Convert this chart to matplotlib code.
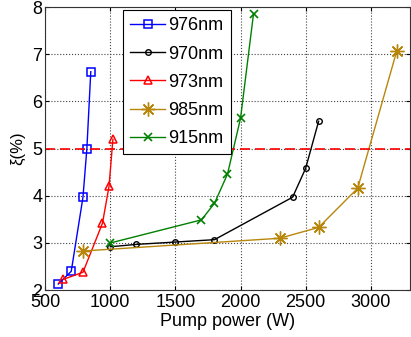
import matplotlib
matplotlib.use("Agg")
import matplotlib.pyplot as plt

x976 = [600, 700, 790, 820, 850]
y976 = [2.13, 2.40, 3.97, 5.00, 6.63]
x970 = [1000, 1200, 1500, 1800, 2400, 2500, 2600]
y970 = [2.92, 2.97, 3.02, 3.07, 3.97, 4.58, 5.58]
x973 = [640, 790, 940, 990, 1020]
y973 = [2.23, 2.38, 3.42, 4.20, 5.20]
x985 = [790, 2300, 2600, 2900, 3200]
y985 = [2.83, 3.10, 3.33, 4.16, 7.07]
x915 = [1000, 1700, 1800, 1900, 2000, 2100]
y915 = [3.00, 3.49, 3.84, 4.46, 5.64, 7.86]
threshold = 5
xticks = [500, 1000, 1500, 2000, 2500, 3000]
yticks = [2, 3, 4, 5, 6, 7, 8]

plt.rcParams['font.family'] = ['Liberation Sans', 'DejaVu Sans']
fig = plt.figure(figsize=(4.11, 3.37), dpi=100)
ax = fig.add_axes([0.110, 0.139, 0.887, 0.840])

gold = '#B8860B'
ax.plot(x976, y976, '-s', color='#0000FF', mfc='none', ms=5.5, mew=1.1, lw=1.0, label='976nm')
ax.plot(x970, y970, '-o', color='black', mfc='none', ms=4, mew=1.0, lw=1.0, label='970nm')
ax.plot(x973, y973, '-^', color='#FF0000', mfc='none', ms=6, mew=1.1, lw=1.0, label='973nm')
ax.plot(x985, y985, '-', marker=(8, 2, 0), color=gold, ms=10, mew=1.0, lw=1.0, label='985nm')
ax.plot(x915, y915, '-x', color='#008000', ms=6, mew=1.2, lw=1.0, label='915nm')
ax.axhline(threshold, color='#FF0000', ls=(0, (6, 3)), lw=1.2)

ax.set_xlim(500, 3300)
ax.set_ylim(2, 8)
ax.set_xticks(xticks)
ax.set_yticks(yticks)
ax.grid(True, ls=':', color='#444444', lw=0.8)
ax.tick_params(direction='in', top=True, right=True, labelsize=13, length=3)
ax.tick_params(axis='x', pad=3)
ax.tick_params(axis='y', pad=2)
for s in ax.spines.values():
    s.set_color('#333333')
ax.set_xlabel('Pump power (W)', fontsize=13, labelpad=1)
ax.set_ylabel('ξ(%)', fontsize=12, labelpad=5)

leg = ax.legend(loc='upper left', bbox_to_anchor=(0.214, 0.989), fontsize=13,
                handlelength=1.9, handletextpad=0.2, borderpad=0.4,
                labelspacing=0.62, fancybox=False, framealpha=1,
                edgecolor='black', borderaxespad=0)
leg.get_frame().set_linewidth(0.8)

fig.savefig('out.png', dpi=100)
